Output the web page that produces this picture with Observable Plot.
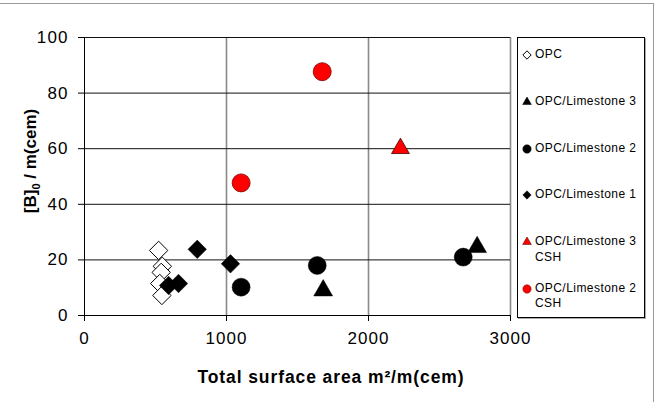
<!DOCTYPE html>
<html><head><meta charset="utf-8">
<script src="https://cdn.jsdelivr.net/npm/d3@7"></script>
<script src="https://cdn.jsdelivr.net/npm/@observablehq/plot@0.6"></script>
<style>
body{margin:0;background:#fff;font-family:"Liberation Sans",Arial,sans-serif;}
#wrap{position:relative;width:657px;height:402px;overflow:hidden;}
#frame{position:absolute;left:-2px;top:3px;width:656px;height:410px;border-top:1px solid #999;border-right:1px solid #999;box-sizing:border-box;pointer-events:none}
#legend{position:absolute;left:517px;top:37px;width:128px;height:281px;border:1px solid #000;box-sizing:border-box;background:#fff;box-shadow:1px 1px 0 #aaa}
.item{position:absolute;left:0;width:126px;font-size:12px;line-height:15.7px;color:#000;letter-spacing:0.45px}
.item svg{position:absolute;left:4px;top:3px}
.item span{position:absolute;left:17px;top:0;white-space:pre}
#chart svg{display:block}
</style>
</head><body>
<div id="wrap"><div id="chart"></div><div id="frame"></div><div id="legend"></div></div>
<script>
const xTicks = [0, 1000, 2000, 3000];
const yTicks = [0, 20, 40, 60, 80, 100];

const opcX = [522, 548, 540, 530, 545];
const opcY = [23.4, 17.7, 15.5, 11.5, 7.2];
const lime1X = [794, 1028, 592, 662];
const lime1Y = [23.8, 18.6, 10.8, 11.5];
const lime2X = [1103, 1639, 2667];
const lime2Y = [10.2, 18.0, 21.0];
const lime3X = [1681, 2765];
const lime3Y = [9.0, 24.6];
const lime3cshX = [2225];
const lime3cshY = [60.1];
const lime2cshX = [1674, 1103];
const lime2cshY = [87.7, 47.7];

const seriesNames = ["OPC", "OPC/Limestone 3", "OPC/Limestone 2", "OPC/Limestone 1", "OPC/Limestone 3\nCSH", "OPC/Limestone 2\nCSH"];

const styles = {
  "OPC": {symbol: "diamond2", r: 8.3, fill: "#fff", stroke: "#000", strokeWidth: 1},
  "OPC/Limestone 3": {symbol: "triangle2", r: 9, fill: "#000", stroke: "#000", strokeWidth: 0.5},
  "OPC/Limestone 2": {symbol: "circle", r: 9, fill: "#000", stroke: "#000", strokeWidth: 0.5},
  "OPC/Limestone 1": {symbol: "diamond2", r: 8.3, fill: "#000", stroke: "#000", strokeWidth: 0.5},
  "OPC/Limestone 3\nCSH": {symbol: "triangle2", r: 8.5, fill: "#ff0000", stroke: "#400000", strokeWidth: 0.8},
  "OPC/Limestone 2\nCSH": {symbol: "circle", r: 9, fill: "#ff0000", stroke: "#7a0000", strokeWidth: 0.8}
};

const seriesData = {
  "OPC": [opcX, opcY],
  "OPC/Limestone 3": [lime3X, lime3Y],
  "OPC/Limestone 2": [lime2X, lime2Y],
  "OPC/Limestone 1": [lime1X, lime1Y],
  "OPC/Limestone 3\nCSH": [lime3cshX, lime3cshY],
  "OPC/Limestone 2\nCSH": [lime2cshX, lime2cshY]
};

const drawOrder = ["OPC", "OPC/Limestone 1", "OPC/Limestone 2", "OPC/Limestone 3", "OPC/Limestone 2\nCSH", "OPC/Limestone 3\nCSH"];

const dotMarks = drawOrder.map(name => {
  const [xs, ys] = seriesData[name];
  const rows = xs.map((x, i) => ({x, y: ys[i]}));
  const s = styles[name];
  return Plot.dot(rows, {x: "x", y: "y", symbol: s.symbol, r: s.r, fill: s.fill, stroke: s.stroke, strokeWidth: s.strokeWidth});
});

const font = '"Liberation Sans", Arial, sans-serif';
const plot = Plot.plot({
  width: 657, height: 402,
  marginLeft: 84, marginRight: 147, marginTop: 37, marginBottom: 87,
  style: {fontFamily: font, fontSize: "17px", background: "transparent", color: "#000", overflow: "visible"},
  x: {domain: [0, 3000], label: null},
  y: {domain: [0, 100], label: null},
  marks: [
    Plot.ruleX(xTicks.slice(1), {stroke: "#8a8a8a", strokeWidth: 1.6}),
    Plot.ruleY(yTicks.slice(1), {stroke: "#111", strokeWidth: 1}),
    Plot.axisX({ticks: xTicks, tickSize: 6, tickPadding: 10, label: null, tickFormat: d => String(d)}),
    Plot.axisY({ticks: yTicks, tickSize: 6, tickPadding: 10, label: null}),
    Plot.ruleX([0], {stroke: "#000"}),
    Plot.ruleY([0], {stroke: "#000"}),
    ...dotMarks
  ]
});
document.getElementById("chart").appendChild(plot);

const svg = d3.select(plot);
svg.selectAll('g[aria-label="x-axis tick label"], g[aria-label="y-axis tick label"]').attr("letter-spacing", "1.1px");

svg.append("text")
  .attr("x", 331).attr("y", 383)
  .attr("text-anchor", "middle")
  .attr("font-family", font).attr("font-size", 17.5).attr("font-weight", "bold").attr("fill", "#000")
  .attr("letter-spacing", "0.9px")
  .text("Total surface area m²/m(cem)");

const yt = svg.append("text")
  .attr("transform", "translate(36,161) rotate(-90)")
  .attr("text-anchor", "middle")
  .attr("font-family", font).attr("font-size", 17).attr("font-weight", "bold").attr("fill", "#000");
yt.append("tspan").text("[B]");
yt.append("tspan").attr("font-size", 11).attr("dy", 4).text("0");
yt.append("tspan").attr("dy", -4).text(" / m(cem)");

// legend
const legend = d3.select("#legend");
seriesNames.forEach((name, i) => {
  const s = styles[name];
  const item = legend.append("div").attr("class", "item").style("top", (9.2 + i * 46.7) + "px");
  const sv = item.append("svg").attr("width", 10).attr("height", 10);
  const sym = {diamond2: d3.symbolDiamond2, triangle2: d3.symbolTriangle2, circle: d3.symbolCircle}[s.symbol];
  sv.append("path")
    .attr("transform", "translate(5,5)")
    .attr("d", d3.symbol(sym, s.symbol === "diamond2" ? 45 : 55)())
    .attr("fill", s.fill).attr("stroke", s.stroke).attr("stroke-width", s.symbol === "diamond2" && s.fill === "#fff" ? 1 : 0.5);
  item.append("span").text(name);
});
</script>
</body></html>
